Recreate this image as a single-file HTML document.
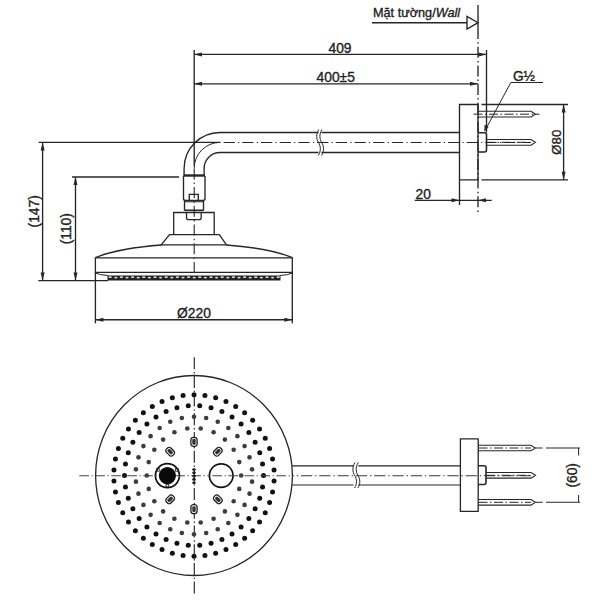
<!DOCTYPE html>
<html><head><meta charset="utf-8"><style>
html,body{margin:0;padding:0;background:#fff;}
body{width:600px;height:600px;overflow:hidden;}
svg{display:block;font-family:"Liberation Sans",sans-serif;fill:#222;}
text{stroke:#222;stroke-width:0.35px;}
</style></head><body>
<div id="wrap"><svg width="600" height="600" viewBox="0 0 600 600">
<rect width="600" height="600" fill="#fff"/>
<line x1="478" y1="5" x2="478" y2="28" stroke="#262626" stroke-width="1.35"/>
<line x1="478" y1="28" x2="478" y2="215" stroke="#262626" stroke-width="1.35" stroke-dasharray="11 3.2 1.5 3"/>
<line x1="372" y1="22.7" x2="467" y2="22.7" stroke="#262626" stroke-width="1.35"/>
<path d="M467,16.5 L467,29 L478,22.7 Z" stroke="#262626" stroke-width="1.35" fill="#fff" />
<text x="373" y="17.3" font-size="12.7" fill="#222">Mặt tường/<tspan font-style="italic">Wall</tspan></text>
<line x1="194.2" y1="50" x2="194.2" y2="166" stroke="#262626" stroke-width="1.35"/>
<line x1="486.5" y1="50" x2="486.5" y2="132.5" stroke="#262626" stroke-width="1.35"/>
<line x1="194" y1="54.4" x2="486.5" y2="54.4" stroke="#262626" stroke-width="1.35"/>
<polygon points="194.00,54.40 202.00,52.40 202.00,56.40" fill="#262626"/>
<polygon points="486.50,54.40 478.50,52.40 478.50,56.40" fill="#262626"/>
<text x="340" y="52.6" font-size="13.8" text-anchor="middle" >409</text>
<line x1="194" y1="83.8" x2="478" y2="83.8" stroke="#262626" stroke-width="1.35"/>
<polygon points="194.00,83.80 202.00,81.80 202.00,85.80" fill="#262626"/>
<polygon points="478.00,83.80 470.00,81.80 470.00,85.80" fill="#262626"/>
<text x="335.7" y="81.8" font-size="13.8" text-anchor="middle" >400±5</text>
<path d="M318.5,132.5 L220,132.5 A35.9,35.9 0 0 0 184.1,168.4 L184.1,176" stroke="#262626" stroke-width="1.35" fill="none" />
<path d="M321.5,132.5 L459.5,132.5" stroke="#262626" stroke-width="1.35" fill="none" />
<path d="M318.5,152.5 L220,152.5 A15.9,15.9 0 0 0 204.1,168.4 L204.1,176" stroke="#262626" stroke-width="1.35" fill="none" />
<path d="M321.5,152.5 L459.5,152.5" stroke="#262626" stroke-width="1.35" fill="none" />
<line x1="220" y1="142.5" x2="531" y2="142.5" stroke="#262626" stroke-width="1.15" stroke-dasharray="11.2 3.3 1.2 3" stroke-dashoffset="15.1"/>
<path d="M220,142.4 A25.8,25.8 0 0 0 194.2,168.4" stroke="#262626" stroke-width="1.0" fill="none" />
<path d="M194.2,168.4 L194.2,272.5" stroke="#262626" stroke-width="1.1" fill="none" stroke-dasharray="11 3.2 1.5 3" />
<path d="M318.8,129.5 C315.8,134 316.3,139 318.5,142.4 C320.7,146 321.2,151 318.3,155.5" stroke="#262626" stroke-width="1.0" fill="none" />
<path d="M322.0,129.5 C319.0,134 319.5,139 321.7,142.4 C323.9,146 324.4,151 321.5,155.5" stroke="#262626" stroke-width="1.0" fill="none" />
<path d="M459.5,104.5 L478,104.5 L478,179.8 L459.5,179.8 Z" stroke="#262626" stroke-width="1.35" fill="none" />
<line x1="459.5" y1="179.8" x2="459.5" y2="205" stroke="#262626" stroke-width="1.35"/>
<line x1="481.5" y1="104.5" x2="568" y2="104.5" stroke="#262626" stroke-width="1.35"/>
<line x1="481.5" y1="179.8" x2="568" y2="179.8" stroke="#262626" stroke-width="1.35"/>
<line x1="563.6" y1="104.5" x2="563.6" y2="179.8" stroke="#262626" stroke-width="1.35"/>
<polygon points="563.60,104.50 561.60,112.50 565.60,112.50" fill="#262626"/>
<polygon points="563.60,179.80 561.60,171.80 565.60,171.80" fill="#262626"/>
<text x="560.9" y="142.2" font-size="13.2" text-anchor="middle" transform="rotate(-90 560.9 142.2)" >Ø80</text>
<path d="M478,111.2 L531,111.2 L535.5,114.2 L531,117 L478,117" stroke="#262626" stroke-width="1.1" fill="none" />
<line x1="473.5" y1="114.2" x2="539.5" y2="114.2" stroke="#262626" stroke-width="1.0" stroke-dasharray="9 2.5 1.5 2.5"/>
<path d="M486.5,139.5 L531,139.5 L535.5,142.3 L531,145.2 L486.5,145.2" stroke="#262626" stroke-width="1.1" fill="none" />
<line x1="486" y1="142.3" x2="530" y2="142.3" stroke="#262626" stroke-width="1.0" stroke-dasharray="9 2.5 1.5 2.5"/>
<path d="M478,132.8 L484.5,132.8 Q486.5,132.8 486.5,134.8 L486.5,150 Q486.5,152 484.5,152 L478,152" stroke="#262626" stroke-width="1.6" fill="none" />
<path d="M543,82.5 L510.8,82.5 L485,130.5" stroke="#262626" stroke-width="1.0" fill="none" />
<polygon points="484.3,131.8 484.6,124.8 488.6,126.9" fill="#262626"/>
<text x="524" y="81" font-size="13.8" text-anchor="middle" >G½</text>
<line x1="414.7" y1="200.3" x2="491.7" y2="200.3" stroke="#262626" stroke-width="1.35"/>
<polygon points="459.50,200.30 451.50,198.30 451.50,202.30" fill="#262626"/>
<polygon points="478.00,200.30 486.00,198.30 486.00,202.30" fill="#262626"/>
<text x="423.3" y="198.7" font-size="13.8" text-anchor="middle" >20</text>
<path d="M183.5,175.5 L205,175.5" stroke="#262626" stroke-width="2.4" fill="none" />
<path d="M183.5,176 L183.5,198.5 Q183.5,200.5 185.5,200.5 L203,200.5 Q205,200.5 205,198.5 L205,176" stroke="#262626" stroke-width="1.35" fill="none" />
<path d="M189.3,200.3 L189.3,194.3 L198.3,194.3 L198.3,200.3" stroke="#262626" stroke-width="1.35" fill="none" />
<path d="M184.5,200.5 L184.5,210.5 M203.5,200.5 L203.5,210.5" stroke="#262626" stroke-width="1.35" fill="none" />
<line x1="184.5" y1="201.8" x2="203.5" y2="201.8" stroke="#262626" stroke-width="1.0"/>
<line x1="184.5" y1="210.3" x2="203.5" y2="210.3" stroke="#262626" stroke-width="1.6"/>
<path d="M173.7,234.7 L173.7,212.5 L214.2,212.5 L214.2,234.7" stroke="#262626" stroke-width="1.3" fill="none" />
<path d="M186.5,212.5 L186.5,217.5 Q186.5,219.7 188.5,219.7 L199.2,219.7 Q201.2,219.7 201.2,217.5 L201.2,212.5" stroke="#262626" stroke-width="1.3" fill="none" />
<path d="M169.5,234.7 L219.3,234.7 L226.5,244.8 L161.2,244.8 Z" stroke="#262626" stroke-width="1.3" fill="none" />
<path d="M95.4,257.7 C110,251.5 135,247 161.5,245" stroke="#262626" stroke-width="1.3" fill="none" />
<path d="M292.3,257.7 C278,251.5 253,247 226.5,245" stroke="#262626" stroke-width="1.3" fill="none" />
<path d="M95.4,257.9 L292.3,257.9 L292.3,272.4 L95.4,272.4 Z" stroke="#262626" stroke-width="1.3" fill="none" />
<path d="M95.6,273 Q99,275 108,275.5" stroke="#262626" stroke-width="1.0" fill="none" />
<path d="M292.1,273 Q289,275 280,275.5" stroke="#262626" stroke-width="1.0" fill="none" />
<path d="M107.5,275.6 L280.5,275.6 L280.5,280.5 L107.5,280.5 Z" fill="#222"/>
<ellipse cx="110.2" cy="277.2" rx="1.7" ry="0.85" fill="#d8d8d8"/>
<ellipse cx="115.8" cy="277.6" rx="1.7" ry="0.85" fill="#d8d8d8"/>
<ellipse cx="121.4" cy="277.2" rx="1.7" ry="0.85" fill="#d8d8d8"/>
<ellipse cx="127.0" cy="277.6" rx="1.7" ry="0.85" fill="#d8d8d8"/>
<ellipse cx="132.6" cy="277.2" rx="1.7" ry="0.85" fill="#d8d8d8"/>
<ellipse cx="138.2" cy="277.6" rx="1.7" ry="0.85" fill="#d8d8d8"/>
<ellipse cx="143.8" cy="277.2" rx="1.7" ry="0.85" fill="#d8d8d8"/>
<ellipse cx="149.4" cy="277.6" rx="1.7" ry="0.85" fill="#d8d8d8"/>
<ellipse cx="155.0" cy="277.2" rx="1.7" ry="0.85" fill="#d8d8d8"/>
<ellipse cx="160.6" cy="277.6" rx="1.7" ry="0.85" fill="#d8d8d8"/>
<ellipse cx="166.2" cy="277.2" rx="1.7" ry="0.85" fill="#d8d8d8"/>
<ellipse cx="171.8" cy="277.6" rx="1.7" ry="0.85" fill="#d8d8d8"/>
<ellipse cx="177.4" cy="277.2" rx="1.7" ry="0.85" fill="#d8d8d8"/>
<ellipse cx="183.0" cy="277.6" rx="1.7" ry="0.85" fill="#d8d8d8"/>
<ellipse cx="188.6" cy="277.2" rx="1.7" ry="0.85" fill="#d8d8d8"/>
<ellipse cx="194.2" cy="277.6" rx="1.7" ry="0.85" fill="#d8d8d8"/>
<ellipse cx="199.8" cy="277.2" rx="1.7" ry="0.85" fill="#d8d8d8"/>
<ellipse cx="205.4" cy="277.6" rx="1.7" ry="0.85" fill="#d8d8d8"/>
<ellipse cx="211.0" cy="277.2" rx="1.7" ry="0.85" fill="#d8d8d8"/>
<ellipse cx="216.6" cy="277.6" rx="1.7" ry="0.85" fill="#d8d8d8"/>
<ellipse cx="222.2" cy="277.2" rx="1.7" ry="0.85" fill="#d8d8d8"/>
<ellipse cx="227.8" cy="277.6" rx="1.7" ry="0.85" fill="#d8d8d8"/>
<ellipse cx="233.4" cy="277.2" rx="1.7" ry="0.85" fill="#d8d8d8"/>
<ellipse cx="239.0" cy="277.6" rx="1.7" ry="0.85" fill="#d8d8d8"/>
<ellipse cx="244.6" cy="277.2" rx="1.7" ry="0.85" fill="#d8d8d8"/>
<ellipse cx="250.2" cy="277.6" rx="1.7" ry="0.85" fill="#d8d8d8"/>
<ellipse cx="255.8" cy="277.2" rx="1.7" ry="0.85" fill="#d8d8d8"/>
<ellipse cx="261.4" cy="277.6" rx="1.7" ry="0.85" fill="#d8d8d8"/>
<ellipse cx="267.0" cy="277.2" rx="1.7" ry="0.85" fill="#d8d8d8"/>
<ellipse cx="272.6" cy="277.6" rx="1.7" ry="0.85" fill="#d8d8d8"/>
<ellipse cx="278.2" cy="277.2" rx="1.7" ry="0.85" fill="#d8d8d8"/>
<line x1="38.7" y1="142.4" x2="220" y2="142.4" stroke="#262626" stroke-width="1.35"/>
<line x1="72" y1="177" x2="179" y2="177" stroke="#262626" stroke-width="1.35"/>
<line x1="38.3" y1="280.6" x2="108" y2="280.6" stroke="#262626" stroke-width="1.35"/>
<line x1="42.6" y1="142.4" x2="42.6" y2="280.6" stroke="#262626" stroke-width="1.35"/>
<polygon points="42.60,142.40 40.60,150.40 44.60,150.40" fill="#262626"/>
<polygon points="42.60,280.60 40.60,272.60 44.60,272.60" fill="#262626"/>
<line x1="75.5" y1="177" x2="75.5" y2="280.6" stroke="#262626" stroke-width="1.35"/>
<polygon points="75.50,177.00 73.50,185.00 77.50,185.00" fill="#262626"/>
<polygon points="75.50,280.60 73.50,272.60 77.50,272.60" fill="#262626"/>
<text x="39.2" y="211.3" font-size="13.8" text-anchor="middle" transform="rotate(-90 39.2 211.3)" >(147)</text>
<text x="71" y="228.7" font-size="13.8" text-anchor="middle" transform="rotate(-90 71 228.7)" >(110)</text>
<line x1="95.4" y1="272" x2="95.4" y2="323.3" stroke="#262626" stroke-width="1.35"/>
<line x1="292.3" y1="272" x2="292.3" y2="323.3" stroke="#262626" stroke-width="1.35"/>
<line x1="95.4" y1="319.7" x2="292.3" y2="319.7" stroke="#262626" stroke-width="1.35"/>
<polygon points="95.40,319.70 103.40,317.70 103.40,321.70" fill="#262626"/>
<polygon points="292.30,319.70 284.30,317.70 284.30,321.70" fill="#262626"/>
<text x="194" y="318.1" font-size="13.8" text-anchor="middle" >Ø220</text>
<ellipse cx="194" cy="475.5" rx="98.4" ry="100" fill="none" stroke="#262626" stroke-width="1.3"/>
<line x1="194.3" y1="357.2" x2="194.3" y2="594.5" stroke="#262626" stroke-width="1.15" stroke-dasharray="12 2.8 1.4 2.5"/>
<path d="M292.3,465.8 L353.5,465.8 M358.3,465.8 L460.4,465.8" stroke="#262626" stroke-width="1.2" fill="none" />
<path d="M292.3,485 L353.5,485 M358.3,485 L460.4,485" stroke="#262626" stroke-width="1.2" fill="none" />
<line x1="292" y1="475.7" x2="531" y2="475.7" stroke="#383838" stroke-width="1.15" stroke-dasharray="11.2 2.9 1.4 2.8" stroke-dashoffset="9.3"/>
<path d="M355,462.5 C352,467 352.5,472 354.7,475.5 C356.9,479 357.4,484 354.5,488" stroke="#262626" stroke-width="1.0" fill="none" />
<path d="M358.3,462.5 C355.3,467 355.8,472 358.0,475.5 C360.2,479 360.7,484 357.8,488" stroke="#262626" stroke-width="1.0" fill="none" />
<path d="M460.4,438.8 L478.2,438.8 L478.2,511.3 L460.4,511.3 Z" stroke="#262626" stroke-width="1.3" fill="none" />
<path d="M478.2,465.8 L484,465.8 Q486,465.8 486,467.8 L486,482.5 Q486,484.5 484,484.5 L478.2,484.5" stroke="#262626" stroke-width="1.6" fill="none" />
<path d="M478.2,445.2 L531,445.2 L535.3,448 L531,450.8 L478.2,450.8" stroke="#262626" stroke-width="1.1" fill="none" />
<line x1="478.5" y1="448" x2="531" y2="448" stroke="#262626" stroke-width="1.0" stroke-dasharray="9 2.5 1.5 2.5"/>
<line x1="535.3" y1="448" x2="542.7" y2="448" stroke="#262626" stroke-width="1.0"/>
<line x1="546" y1="448" x2="580" y2="448" stroke="#262626" stroke-width="1.1"/>
<path d="M478.2,499.5 L531,499.5 L535.3,502.3 L531,505.1 L478.2,505.1" stroke="#262626" stroke-width="1.1" fill="none" />
<line x1="478.5" y1="502.3" x2="531" y2="502.3" stroke="#262626" stroke-width="1.0" stroke-dasharray="9 2.5 1.5 2.5"/>
<line x1="535.3" y1="502.3" x2="542.7" y2="502.3" stroke="#262626" stroke-width="1.0"/>
<line x1="546" y1="502.3" x2="580" y2="502.3" stroke="#262626" stroke-width="1.1"/>
<path d="M486,472.5 L531,472.5 L535.5,475.3 L531,478.1 L486,478.1" stroke="#262626" stroke-width="1.1" fill="none" />
<line x1="486" y1="475.3" x2="531" y2="475.3" stroke="#262626" stroke-width="1.0" stroke-dasharray="9 2.5 1.5 2.5"/>
<line x1="578.6" y1="448" x2="578.6" y2="455.5" stroke="#262626" stroke-width="1.0"/>
<line x1="578.6" y1="495" x2="578.6" y2="502.3" stroke="#262626" stroke-width="1.0"/>
<text x="577" y="475.3" font-size="13.8" text-anchor="middle" transform="rotate(-90 577 475.3)" >(60)</text>
<circle cx="194.00" cy="394.70" r="2.5" fill="#111"/>
<circle cx="204.93" cy="395.45" r="2.5" fill="#111"/>
<circle cx="215.65" cy="397.70" r="2.5" fill="#111"/>
<circle cx="225.97" cy="401.39" r="2.5" fill="#111"/>
<circle cx="235.69" cy="406.46" r="2.5" fill="#111"/>
<circle cx="244.63" cy="412.82" r="2.5" fill="#111"/>
<circle cx="252.64" cy="420.35" r="2.5" fill="#111"/>
<circle cx="259.55" cy="428.90" r="2.5" fill="#111"/>
<circle cx="265.24" cy="438.33" r="2.5" fill="#111"/>
<circle cx="269.60" cy="448.44" r="2.5" fill="#111"/>
<circle cx="272.56" cy="459.06" r="2.5" fill="#111"/>
<circle cx="274.05" cy="469.99" r="2.5" fill="#111"/>
<circle cx="274.05" cy="481.01" r="2.5" fill="#111"/>
<circle cx="272.56" cy="491.94" r="2.5" fill="#111"/>
<circle cx="269.60" cy="502.56" r="2.5" fill="#111"/>
<circle cx="265.24" cy="512.67" r="2.5" fill="#111"/>
<circle cx="259.55" cy="522.10" r="2.5" fill="#111"/>
<circle cx="252.64" cy="530.65" r="2.5" fill="#111"/>
<circle cx="244.63" cy="538.18" r="2.5" fill="#111"/>
<circle cx="235.69" cy="544.54" r="2.5" fill="#111"/>
<circle cx="225.97" cy="549.61" r="2.5" fill="#111"/>
<circle cx="215.65" cy="553.30" r="2.5" fill="#111"/>
<circle cx="204.93" cy="555.55" r="2.5" fill="#111"/>
<circle cx="194.00" cy="556.30" r="2.5" fill="#111"/>
<circle cx="183.07" cy="555.55" r="2.5" fill="#111"/>
<circle cx="172.35" cy="553.30" r="2.5" fill="#111"/>
<circle cx="162.03" cy="549.61" r="2.5" fill="#111"/>
<circle cx="152.31" cy="544.54" r="2.5" fill="#111"/>
<circle cx="143.37" cy="538.18" r="2.5" fill="#111"/>
<circle cx="135.36" cy="530.65" r="2.5" fill="#111"/>
<circle cx="128.45" cy="522.10" r="2.5" fill="#111"/>
<circle cx="122.76" cy="512.67" r="2.5" fill="#111"/>
<circle cx="118.40" cy="502.56" r="2.5" fill="#111"/>
<circle cx="115.44" cy="491.94" r="2.5" fill="#111"/>
<circle cx="113.95" cy="481.01" r="2.5" fill="#111"/>
<circle cx="113.95" cy="469.99" r="2.5" fill="#111"/>
<circle cx="115.44" cy="459.06" r="2.5" fill="#111"/>
<circle cx="118.40" cy="448.44" r="2.5" fill="#111"/>
<circle cx="122.76" cy="438.33" r="2.5" fill="#111"/>
<circle cx="128.45" cy="428.90" r="2.5" fill="#111"/>
<circle cx="135.36" cy="420.35" r="2.5" fill="#111"/>
<circle cx="143.37" cy="412.82" r="2.5" fill="#111"/>
<circle cx="152.31" cy="406.46" r="2.5" fill="#111"/>
<circle cx="162.03" cy="401.39" r="2.5" fill="#111"/>
<circle cx="172.35" cy="397.70" r="2.5" fill="#111"/>
<circle cx="183.07" cy="395.45" r="2.5" fill="#111"/>
<circle cx="199.74" cy="405.74" r="2.5" fill="#111"/>
<circle cx="211.06" cy="407.64" r="2.5" fill="#111"/>
<circle cx="221.92" cy="411.40" r="2.5" fill="#111"/>
<circle cx="232.02" cy="416.90" r="2.5" fill="#111"/>
<circle cx="241.08" cy="424.00" r="2.5" fill="#111"/>
<circle cx="248.85" cy="432.51" r="2.5" fill="#111"/>
<circle cx="255.13" cy="442.18" r="2.5" fill="#111"/>
<circle cx="259.74" cy="452.77" r="2.5" fill="#111"/>
<circle cx="262.56" cy="463.98" r="2.5" fill="#111"/>
<circle cx="263.51" cy="475.50" r="2.5" fill="#111"/>
<circle cx="262.56" cy="487.02" r="2.5" fill="#111"/>
<circle cx="259.74" cy="498.23" r="2.5" fill="#111"/>
<circle cx="255.13" cy="508.82" r="2.5" fill="#111"/>
<circle cx="248.85" cy="518.49" r="2.5" fill="#111"/>
<circle cx="241.08" cy="527.00" r="2.5" fill="#111"/>
<circle cx="232.02" cy="534.10" r="2.5" fill="#111"/>
<circle cx="221.92" cy="539.60" r="2.5" fill="#111"/>
<circle cx="211.06" cy="543.36" r="2.5" fill="#111"/>
<circle cx="199.74" cy="545.26" r="2.5" fill="#111"/>
<circle cx="188.26" cy="545.26" r="2.5" fill="#111"/>
<circle cx="176.94" cy="543.36" r="2.5" fill="#111"/>
<circle cx="166.08" cy="539.60" r="2.5" fill="#111"/>
<circle cx="155.98" cy="534.10" r="2.5" fill="#111"/>
<circle cx="146.92" cy="527.00" r="2.5" fill="#111"/>
<circle cx="139.15" cy="518.49" r="2.5" fill="#111"/>
<circle cx="132.87" cy="508.82" r="2.5" fill="#111"/>
<circle cx="128.26" cy="498.23" r="2.5" fill="#111"/>
<circle cx="125.44" cy="487.02" r="2.5" fill="#111"/>
<circle cx="124.49" cy="475.50" r="2.5" fill="#111"/>
<circle cx="125.44" cy="463.98" r="2.5" fill="#111"/>
<circle cx="128.26" cy="452.77" r="2.5" fill="#111"/>
<circle cx="132.87" cy="442.18" r="2.5" fill="#111"/>
<circle cx="139.15" cy="432.51" r="2.5" fill="#111"/>
<circle cx="146.92" cy="424.00" r="2.5" fill="#111"/>
<circle cx="155.98" cy="416.90" r="2.5" fill="#111"/>
<circle cx="166.08" cy="411.40" r="2.5" fill="#111"/>
<circle cx="176.94" cy="407.64" r="2.5" fill="#111"/>
<circle cx="188.26" cy="405.74" r="2.5" fill="#111"/>
<circle cx="194.00" cy="416.70" r="2.3" fill="#3d3d3d"/>
<circle cx="206.14" cy="417.98" r="2.3" fill="#3d3d3d"/>
<circle cx="217.75" cy="421.78" r="2.3" fill="#3d3d3d"/>
<circle cx="228.32" cy="427.93" r="2.3" fill="#3d3d3d"/>
<circle cx="237.39" cy="436.16" r="2.3" fill="#3d3d3d"/>
<circle cx="244.57" cy="446.10" r="2.3" fill="#3d3d3d"/>
<circle cx="249.53" cy="457.33" r="2.3" fill="#3d3d3d"/>
<circle cx="252.07" cy="469.35" r="2.3" fill="#3d3d3d"/>
<circle cx="252.07" cy="481.65" r="2.3" fill="#3d3d3d"/>
<circle cx="249.53" cy="493.67" r="2.3" fill="#3d3d3d"/>
<circle cx="244.57" cy="504.90" r="2.3" fill="#3d3d3d"/>
<circle cx="237.39" cy="514.84" r="2.3" fill="#3d3d3d"/>
<circle cx="228.32" cy="523.07" r="2.3" fill="#3d3d3d"/>
<circle cx="217.75" cy="529.22" r="2.3" fill="#3d3d3d"/>
<circle cx="206.14" cy="533.02" r="2.3" fill="#3d3d3d"/>
<circle cx="194.00" cy="534.30" r="2.3" fill="#3d3d3d"/>
<circle cx="181.86" cy="533.02" r="2.3" fill="#3d3d3d"/>
<circle cx="170.25" cy="529.22" r="2.3" fill="#3d3d3d"/>
<circle cx="159.68" cy="523.07" r="2.3" fill="#3d3d3d"/>
<circle cx="150.61" cy="514.84" r="2.3" fill="#3d3d3d"/>
<circle cx="143.43" cy="504.90" r="2.3" fill="#3d3d3d"/>
<circle cx="138.47" cy="493.67" r="2.3" fill="#3d3d3d"/>
<circle cx="135.93" cy="481.65" r="2.3" fill="#3d3d3d"/>
<circle cx="135.93" cy="469.35" r="2.3" fill="#3d3d3d"/>
<circle cx="138.47" cy="457.33" r="2.3" fill="#3d3d3d"/>
<circle cx="143.43" cy="446.10" r="2.3" fill="#3d3d3d"/>
<circle cx="150.61" cy="436.16" r="2.3" fill="#3d3d3d"/>
<circle cx="159.68" cy="427.93" r="2.3" fill="#3d3d3d"/>
<circle cx="170.25" cy="421.78" r="2.3" fill="#3d3d3d"/>
<circle cx="181.86" cy="417.98" r="2.3" fill="#3d3d3d"/>
<circle cx="241.17" cy="475.50" r="2.3" fill="#3d3d3d"/>
<circle cx="239.26" cy="488.88" r="2.3" fill="#3d3d3d"/>
<circle cx="233.68" cy="501.18" r="2.3" fill="#3d3d3d"/>
<circle cx="224.89" cy="511.40" r="2.3" fill="#3d3d3d"/>
<circle cx="213.59" cy="518.71" r="2.3" fill="#3d3d3d"/>
<circle cx="200.71" cy="522.52" r="2.3" fill="#3d3d3d"/>
<circle cx="187.29" cy="522.52" r="2.3" fill="#3d3d3d"/>
<circle cx="174.41" cy="518.71" r="2.3" fill="#3d3d3d"/>
<circle cx="163.11" cy="511.40" r="2.3" fill="#3d3d3d"/>
<circle cx="154.32" cy="501.18" r="2.3" fill="#3d3d3d"/>
<circle cx="148.74" cy="488.88" r="2.3" fill="#3d3d3d"/>
<circle cx="146.83" cy="475.50" r="2.3" fill="#3d3d3d"/>
<circle cx="148.74" cy="462.12" r="2.3" fill="#3d3d3d"/>
<circle cx="154.32" cy="449.82" r="2.3" fill="#3d3d3d"/>
<circle cx="163.11" cy="439.60" r="2.3" fill="#3d3d3d"/>
<circle cx="174.41" cy="432.29" r="2.3" fill="#3d3d3d"/>
<circle cx="187.29" cy="428.48" r="2.3" fill="#3d3d3d"/>
<circle cx="200.71" cy="428.48" r="2.3" fill="#3d3d3d"/>
<circle cx="213.59" cy="432.29" r="2.3" fill="#3d3d3d"/>
<circle cx="224.89" cy="439.60" r="2.3" fill="#3d3d3d"/>
<circle cx="233.68" cy="449.82" r="2.3" fill="#3d3d3d"/>
<circle cx="239.26" cy="462.12" r="2.3" fill="#3d3d3d"/>
<g transform="translate(194.00 441.80) rotate(0)"><rect x="-3.1" y="-4.5" width="6.2" height="9" rx="2.4" fill="#fff" stroke="#1e1e1e" stroke-width="1.3"/><rect x="-1.7" y="-3" width="3.4" height="6" rx="1.4" fill="#333"/></g>
<g transform="translate(217.83 451.67) rotate(45)"><rect x="-3.1" y="-4.5" width="6.2" height="9" rx="2.4" fill="#fff" stroke="#1e1e1e" stroke-width="1.3"/><rect x="-1.7" y="-3" width="3.4" height="6" rx="1.4" fill="#333"/></g>
<g transform="translate(217.83 499.33) rotate(135)"><rect x="-3.1" y="-4.5" width="6.2" height="9" rx="2.4" fill="#fff" stroke="#1e1e1e" stroke-width="1.3"/><rect x="-1.7" y="-3" width="3.4" height="6" rx="1.4" fill="#333"/></g>
<g transform="translate(194.00 509.20) rotate(180)"><rect x="-3.1" y="-4.5" width="6.2" height="9" rx="2.4" fill="#fff" stroke="#1e1e1e" stroke-width="1.3"/><rect x="-1.7" y="-3" width="3.4" height="6" rx="1.4" fill="#333"/></g>
<g transform="translate(170.17 499.33) rotate(225)"><rect x="-3.1" y="-4.5" width="6.2" height="9" rx="2.4" fill="#fff" stroke="#1e1e1e" stroke-width="1.3"/><rect x="-1.7" y="-3" width="3.4" height="6" rx="1.4" fill="#333"/></g>
<g transform="translate(170.17 451.67) rotate(315)"><rect x="-3.1" y="-4.5" width="6.2" height="9" rx="2.4" fill="#fff" stroke="#1e1e1e" stroke-width="1.3"/><rect x="-1.7" y="-3" width="3.4" height="6" rx="1.4" fill="#333"/></g>
<circle cx="167.4" cy="475.6" r="12" fill="#fff" stroke="#111" stroke-width="1.7"/>
<circle cx="221.2" cy="475.6" r="11.8" fill="#fff" stroke="#111" stroke-width="1.7"/>
<line x1="79.3" y1="475.7" x2="209.4" y2="475.7" stroke="#444" stroke-width="1.1" stroke-dasharray="9.6 2.6 1.2 2.6"/>
<line x1="209.4" y1="475.7" x2="292" y2="475.7" stroke="#444" stroke-width="1.1" stroke-dasharray="9.6 2.6 1.2 2.6" stroke-dashoffset="-3"/>
<circle cx="167.4" cy="475.6" r="8.6" fill="#0a0a0a"/>
<rect x="156.6" y="468.59999999999997" width="2.6" height="2.6" fill="none" stroke="#222" stroke-width="0.9"/>
<rect x="175.6" y="468.59999999999997" width="2.6" height="2.6" fill="none" stroke="#222" stroke-width="0.9"/>
<rect x="166.1" y="484.3" width="2.6" height="2.6" fill="none" stroke="#222" stroke-width="0.9"/>
<ellipse cx="194" cy="469.5" rx="1.8" ry="1.3" fill="#1a1a1a"/>
<ellipse cx="194" cy="472.8" rx="1.8" ry="1.3" fill="#1a1a1a"/>
<ellipse cx="194" cy="476.1" rx="1.8" ry="1.3" fill="#1a1a1a"/>
<ellipse cx="194" cy="479.4" rx="1.8" ry="1.3" fill="#1a1a1a"/>
<ellipse cx="194" cy="482.7" rx="1.8" ry="1.3" fill="#1a1a1a"/>
</svg></div>
</body></html>
